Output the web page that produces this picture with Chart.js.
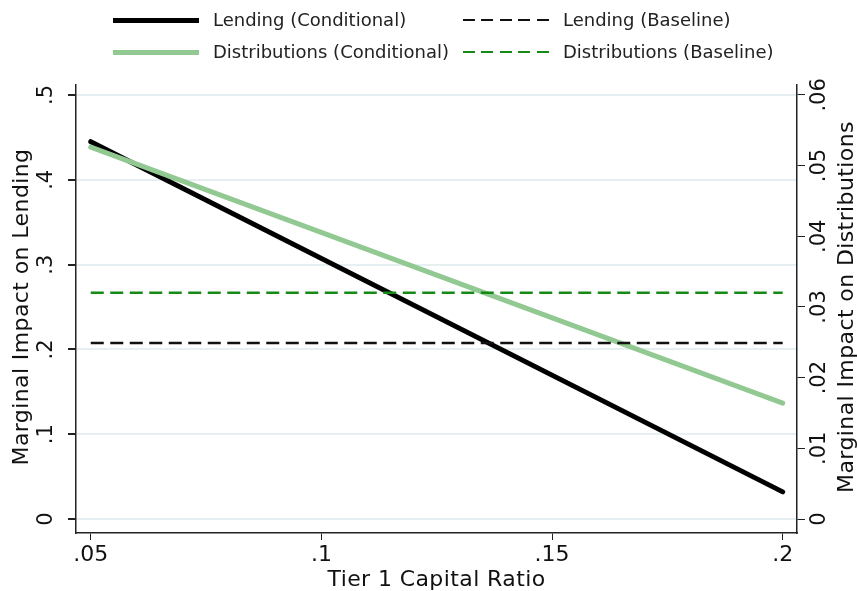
<!DOCTYPE html>
<html>
<head>
<meta charset="utf-8">
<script src="https://cdn.jsdelivr.net/npm/chart.js@4/dist/chart.umd.min.js"></script>
<style>
  body { margin: 0; background: #fff; }
  #wrap { position: relative; width: 857px; height: 591px; }
  #legend { position: absolute; left: 0; top: 0; width: 857px; height: 70px;
            font-family: "DejaVu Sans", sans-serif; font-size: 18px; color: #222; }
  .item { position: absolute; height: 24px; line-height: 24px; }
  .swatch { position: absolute; left: 0; width: 86px; top: 50%; }
  .item span { position: absolute; left: 100px; white-space: nowrap; top: 0; }
</style>
</head>
<body>
<div id="wrap">
  <canvas id="chart" width="857" height="591"></canvas>
  <div id="legend"></div>
</div>
<script>
// x values (Tier 1 capital ratio)
const xVals = [0.05, 0.2];
// series
const lendingCond = [0.445, 0.032];     // left axis
const distCond = [0.0526, 0.0164];      // right axis
const lendingBase = [0.2075, 0.2075];   // left axis
const distBase = [0.032, 0.032];        // right axis

const leftTicks = [0, 0.1, 0.2, 0.3, 0.4, 0.5];
const rightTicks = [0, 0.01, 0.02, 0.03, 0.04, 0.05, 0.06];
const xTicks = [0.05, 0.1, 0.15, 0.2];

const FONT = '"DejaVu Sans", sans-serif';

function fmt(v) {
    if (v === 0) return '0';
    return String(+v.toFixed(3)).replace(/^0\./, '.');
}

function pts(ys) {
    return xVals.map((x, i) => ({ x: x, y: ys[i] }));
}

// Legend (2 x 2 grid)
const legendItems = [
    { text: 'Lending (Conditional)', color: '#000', width: 5, dash: false, x: 113, y: 8 },
    { text: 'Lending (Baseline)', color: '#111', width: 2.5, dash: true, x: 463, y: 8 },
    { text: 'Distributions (Conditional)', color: '#92c992', width: 5, dash: false, x: 113, y: 40 },
    { text: 'Distributions (Baseline)', color: '#168a16', width: 2.5, dash: true, x: 463, y: 40 }
];
const legendEl = document.getElementById('legend');
legendItems.forEach(it => {
    const d = document.createElement('div');
    d.className = 'item';
    d.style.left = it.x + 'px';
    d.style.top = it.y + 'px';
    const sw = document.createElement('div');
    sw.className = 'swatch';
    sw.style.height = it.width + 'px';
    sw.style.marginTop = (-it.width / 2) + 'px';
    if (it.dash) {
        sw.style.background = 'repeating-linear-gradient(90deg,' + it.color + ' 0 12px, transparent 12px 18.5px)';
    } else {
        sw.style.background = it.color;
    }
    const t = document.createElement('span');
    t.textContent = it.text;
    d.appendChild(sw);
    d.appendChild(t);
    legendEl.appendChild(d);
});

// Draw rotated tick labels and axis titles
const labelPlugin = {
    id: 'labels',
    afterDraw(chart) {
        const ctx = chart.ctx;
        const yl = chart.scales.y;
        const yr = chart.scales.y2;
        const xs = chart.scales.x;
        ctx.save();
        ctx.fillStyle = '#111';
        ctx.font = '21px ' + FONT;
        ctx.textAlign = 'center';
        ctx.textBaseline = 'middle';
        leftTicks.forEach(v => {
            ctx.save();
            ctx.translate(47, yl.getPixelForValue(v));
            ctx.rotate(-Math.PI / 2);
            ctx.fillText(fmt(v), 0, 0);
            ctx.restore();
        });
        rightTicks.forEach(v => {
            ctx.save();
            ctx.translate(820, yr.getPixelForValue(v));
            ctx.rotate(-Math.PI / 2);
            ctx.fillText(fmt(v), 0, 0);
            ctx.restore();
        });
        ctx.font = '22px ' + FONT;
        xTicks.forEach(v => {
            ctx.fillText(fmt(v), xs.getPixelForValue(v), 555);
        });
        ctx.letterSpacing = '0.4px';
        ctx.save();
        ctx.translate(22, 307);
        ctx.rotate(-Math.PI / 2);
        ctx.fillText('Marginal Impact on Lending', 0, 0);
        ctx.restore();
        ctx.save();
        ctx.translate(847, 307);
        ctx.rotate(-Math.PI / 2);
        ctx.fillText('Marginal Impact on Distributions', 0, 0);
        ctx.restore();
        ctx.fillText('Tier 1 Capital Ratio', (chart.chartArea.left + chart.chartArea.right) / 2, 580);
        ctx.restore();
    }
};

const ctx = document.getElementById('chart').getContext('2d');
new Chart(ctx, {
    type: 'line',
    data: {
        datasets: [
            { label: 'Lending (Baseline)', data: pts(lendingBase), yAxisID: 'y',
              borderColor: '#111', borderWidth: 2.5, borderDash: [13, 6.5], pointRadius: 0 },
            { label: 'Distributions (Baseline)', data: pts(distBase), yAxisID: 'y2',
              borderColor: '#168a16', borderWidth: 2.5, borderDash: [13, 6.5], pointRadius: 0 },
            { label: 'Distributions (Conditional)', data: pts(distCond), yAxisID: 'y2',
              borderColor: '#92c992', borderWidth: 5, borderCapStyle: 'round', pointRadius: 0 },
            { label: 'Lending (Conditional)', data: pts(lendingCond), yAxisID: 'y',
              borderColor: '#000', borderWidth: 5, borderCapStyle: 'round', pointRadius: 0 }
        ]
    },
    options: {
        responsive: false,
        animation: false,
        layout: { padding: { top: 85, left: 0, right: 0, bottom: 0 } },
        plugins: { legend: { display: false }, tooltip: { enabled: false } },
        scales: {
            x: {
                type: 'linear',
                min: 0.0468, max: 0.2031,
                afterBuildTicks: s => { s.ticks = xTicks.map(v => ({ value: v })); },
                afterFit: s => { s.height = 58; },
                ticks: { display: false },
                grid: { drawOnChartArea: false, drawTicks: true, tickLength: 7, tickColor: '#222' },
                border: { display: true, color: '#222', width: 1.5 }
            },
            y: {
                position: 'left',
                min: -0.0165, max: 0.5118,
                afterBuildTicks: s => { s.ticks = leftTicks.map(v => ({ value: v })); },
                afterFit: s => { s.width = 76; },
                ticks: { display: false },
                grid: { color: '#e6eff2', lineWidth: 2, drawTicks: true, tickLength: 8, tickColor: '#222' },
                border: { display: true, color: '#222', width: 1.5 }
            },
            y2: {
                position: 'right',
                min: -0.00198, max: 0.0614,
                afterBuildTicks: s => { s.ticks = rightTicks.map(v => ({ value: v })); },
                afterFit: s => { s.width = 60; },
                ticks: { display: false },
                grid: { drawOnChartArea: false, drawTicks: true, tickLength: 8, tickColor: '#222' },
                border: { display: true, color: '#222', width: 1.5 }
            }
        }
    },
    plugins: [labelPlugin]
});
</script>
</body>
</html>
